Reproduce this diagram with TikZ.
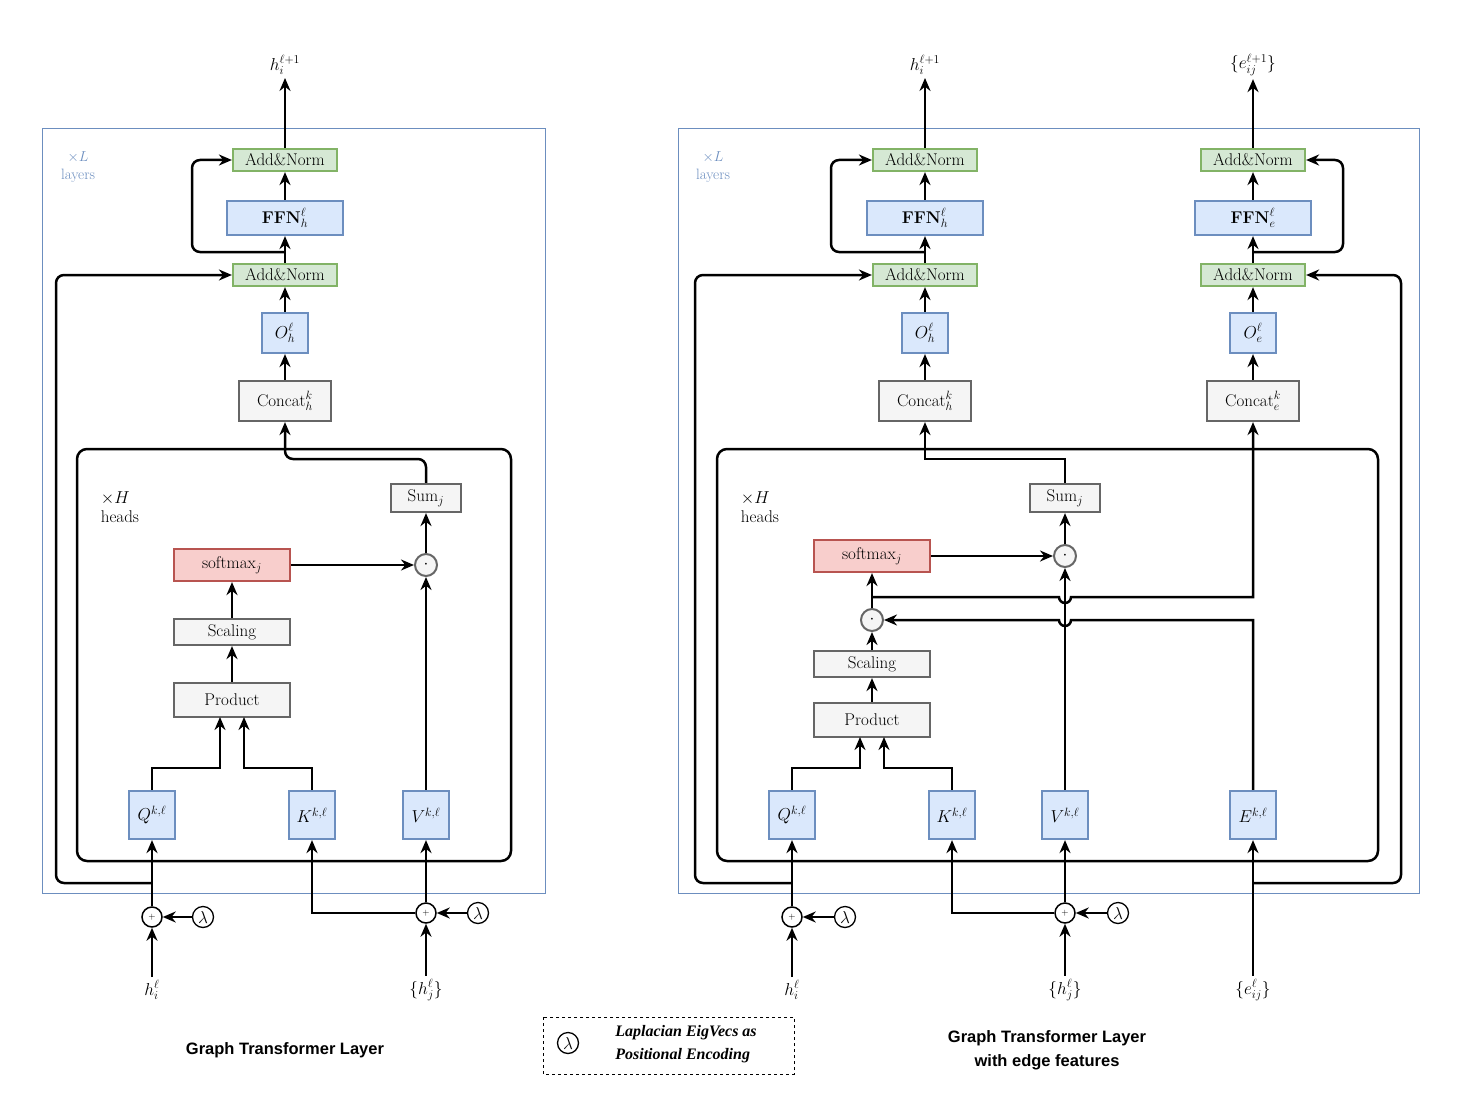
\documentclass[tikz,border=0pt]{standalone}
\usepackage{fontspec}
\newfontfamily\sansb{Liberation Sans}[]
\newfontfamily\serifb{Liberation Serif}[]
\usetikzlibrary{arrows.meta,positioning}
\definecolor{bF}{HTML}{DAE8FC}\definecolor{bS}{HTML}{6C8EBF}
\definecolor{gF}{HTML}{D5E8D4}\definecolor{gS}{HTML}{82B366}
\definecolor{rF}{HTML}{F8CECC}\definecolor{rS}{HTML}{B85450}
\definecolor{yF}{HTML}{F5F5F5}\definecolor{yS}{HTML}{666666}
\begin{document}
\begin{tikzpicture}[x=1pt,y=-1pt,font=\fontsize{17}{19}\selectfont,
 bx/.style={draw,line width=2.2pt,inner sep=0pt,minimum width=#1},
 blu/.style={bx=#1,fill=bF,draw=bS},
 grn/.style={bx=#1,fill=gF,draw=gS,minimum height=22pt},
 red/.style={bx=#1,fill=rF,draw=rS},
 gry/.style={bx=#1,fill=yF,draw=yS},
 dot/.style={circle,draw=yS,fill=yF,line width=2pt,minimum size=22pt,inner sep=0pt},
 pl/.style={circle,draw,fill=white,line width=1.5pt,minimum size=20pt,inner sep=0pt},
 lam/.style={circle,draw,line width=1.3pt,minimum size=21pt,inner sep=0pt},
 ar/.style={line width=2.5pt,-{Stealth[length=13pt,width=11pt]}},
 ln/.style={line width=2.5pt},
 rc/.style={rounded corners=8pt}]
\useasboundingbox (0,0) rectangle (1461,1102);
% ---------- LEFT ----------
\draw[bS,line width=0.8pt] (42,128) rectangle (545,893);
\node[bS,align=center,font=\fontsize{15}{18}\selectfont] (L1) at (78,167) {$\times L$\\layers};
\draw[line width=2.5pt,rounded corners=10pt] (77,449) rectangle (511,861);
\node[align=left] (H1) at (120,507) {$\times H$\\heads};
\node (hout) at (285,65) {$h_i^{\ell+1}$};
\node[grn=104pt] (an1) at (285,160) {Add\&Norm};
\node[blu=116pt,minimum height=34pt] (ffn) at (285,218) {\textbf{FFN}$_h^\ell$};
\node[grn=104pt] (an2) at (285,275) {Add\&Norm};
\node[blu=46pt,minimum height=40pt] (O) at (285,333) {$O_h^\ell$};
\node[gry=92pt,minimum height=40pt] (cc) at (285,401) {Concat$_h^k$};
\node[gry=70pt,minimum height=28pt] (sum) at (426,498) {Sum$_j$};
\node[red=116pt,minimum height=32pt] (sm) at (232,565) {softmax$_j$};
\node[dot] (d1) at (426,565) {$\cdot$};
\node[gry=116pt,minimum height=26pt] (sc) at (232,632) {Scaling};
\node[gry=116pt,minimum height=34pt] (pr) at (232,700) {Product};
\node[blu=46pt,minimum height=48pt] (Q) at (152,815) {$Q^{k,\ell}$};
\node[blu=46pt,minimum height=48pt] (K) at (312,815) {$K^{k,\ell}$};
\node[blu=46pt,minimum height=48pt] (V) at (426,815) {$V^{k,\ell}$};
\node[pl] (p1) at (152,917) {\small$+$};
\node[lam] (l1) at (203,917) {$\lambda$};
\node[pl] (p2) at (426,913) {\small$+$};
\node[lam] (l2) at (478,913) {$\lambda$};
\node (hi) at (152,990) {$h_i^\ell$};
\node (hj) at (426,990) {$\{h_j^\ell\}$};
\node[font=\sansb\bfseries\fontsize{16.5}{20}\selectfont] (t1) at (285,1050) {Graph Transformer Layer};
\draw[ar] (an1) -- (hout);
\draw[ar] (ffn) -- (an1);
\draw[ar] (an2) -- (ffn);
\draw[ar] (O) -- (an2);
\draw[ar] (cc) -- (O);
\draw[ar,rc] (285,252) -- (192,252) -- (192,160) -- (an1.west);
\draw[ar,rc] (152,883) -- (56,883) -- (56,275) -- (an2.west);
\draw[ar,rc] (sum.north) -- (426,459) -- (285,459) -- (cc.south);
\draw[ar] (sm.east) -- (d1.west);
\draw[ar] (V.north) -- (d1.south);
\draw[ar] (d1.north) -- (sum.south);
\draw[ar] (sc) -- (sm);
\draw[ar] (pr) -- (sc);
\draw[ar] (Q.north) -- (152,768) -- (220,768) -- (220,717);
\draw[ar] (K.north) -- (312,768) -- (244,768) -- (244,717);
\draw[ar] (p1) -- (Q);
\draw[ar] (hi) -- (p1);
\draw[ar] (l1) -- (p1);
\draw[ar] (p2) -- (V);
\draw[ar] (p2.west) -- (312,913) -- (K.south);
\draw[ar] (hj) -- (p2);
\draw[ar] (l2) -- (p2);
% ---------- RIGHT ----------
\draw[bS,line width=0.8pt] (678,128) rectangle (1419,893);
\node[bS,align=center,font=\fontsize{15}{18}\selectfont] (L2) at (713,167) {$\times L$\\layers};
\draw[line width=2.5pt,rounded corners=10pt] (717,449) rectangle (1378,861);
\node[align=left] (H2) at (760,507) {$\times H$\\heads};
\node (rhout) at (925,65) {$h_i^{\ell+1}$};
\node (reout) at (1253,65) {$\{e_{ij}^{\ell+1}\}$};
\node[grn=104pt] (ran1) at (925,160) {Add\&Norm};
\node[blu=116pt,minimum height=34pt] (rffn) at (925,218) {\textbf{FFN}$_h^\ell$};
\node[grn=104pt] (ran2) at (925,275) {Add\&Norm};
\node[blu=46pt,minimum height=40pt] (rO) at (925,333) {$O_h^\ell$};
\node[gry=92pt,minimum height=40pt] (rcc) at (925,401) {Concat$_h^k$};
\node[grn=104pt] (ean1) at (1253,160) {Add\&Norm};
\node[blu=116pt,minimum height=34pt] (effn) at (1253,218) {\textbf{FFN}$_e^\ell$};
\node[grn=104pt] (ean2) at (1253,275) {Add\&Norm};
\node[blu=46pt,minimum height=40pt] (eO) at (1253,333) {$O_e^\ell$};
\node[gry=92pt,minimum height=40pt] (ecc) at (1253,401) {Concat$_e^k$};
\node[gry=70pt,minimum height=28pt] (rsum) at (1065,498) {Sum$_j$};
\node[red=116pt,minimum height=32pt] (rsm) at (872,556) {softmax$_j$};
\node[dot] (rd1) at (1065,556) {$\cdot$};
\node[dot] (rd2) at (872,620) {$\cdot$};
\node[gry=116pt,minimum height=26pt] (rsc) at (872,664) {Scaling};
\node[gry=116pt,minimum height=34pt] (rpr) at (872,720) {Product};
\node[blu=46pt,minimum height=48pt] (rQ) at (792,815) {$Q^{k,\ell}$};
\node[blu=46pt,minimum height=48pt] (rK) at (952,815) {$K^{k,\ell}$};
\node[blu=46pt,minimum height=48pt] (rV) at (1065,815) {$V^{k,\ell}$};
\node[blu=46pt,minimum height=48pt] (rE) at (1253,815) {$E^{k,\ell}$};
\node[pl] (rp1) at (792,917) {\small$+$};
\node[lam] (rl1) at (845,917) {$\lambda$};
\node[pl] (rp2) at (1065,913) {\small$+$};
\node[lam] (rl2) at (1118,913) {$\lambda$};
\node (rhi) at (792,990) {$h_i^\ell$};
\node (rhj) at (1065,990) {$\{h_j^\ell\}$};
\node (reij) at (1253,990) {$\{e_{ij}^\ell\}$};
\node[align=center,font=\sansb\bfseries\fontsize{16.5}{24}\selectfont] (t2) at (1047,1050) {Graph Transformer Layer\\with edge features};
\draw[ar] (ran1) -- (rhout);
\draw[ar] (rffn) -- (ran1);
\draw[ar] (ran2) -- (rffn);
\draw[ar] (rO) -- (ran2);
\draw[ar] (rcc) -- (rO);
\draw[ar] (ean1) -- (reout);
\draw[ar] (effn) -- (ean1);
\draw[ar] (ean2) -- (effn);
\draw[ar] (eO) -- (ean2);
\draw[ar] (ecc) -- (eO);
\draw[ar,rc] (925,252) -- (831,252) -- (831,160) -- (ran1.west);
\draw[ar,rc] (792,883) -- (695,883) -- (695,275) -- (ran2.west);
\draw[ar,rc] (1253,252) -- (1343,252) -- (1343,160) -- (ean1.east);
\draw[ar,rc] (1253,883) -- (1401,883) -- (1401,275) -- (ean2.east);
\draw[ar] (rsum.north) -- (1065,459) -- (925,459) -- (rcc.south);
\draw[ar] (rsm.east) -- (rd1.west);
\draw[ar] (rV.north) -- (rd1.south);
\draw[ar] (rd1.north) -- (rsum.south);
\draw[ar] (rd2) -- (rsm);
\draw[ar] (rsc) -- (rd2);
\draw[ar] (rpr) -- (rsc);
\draw[ar] (872,597) -- (1059,597) arc (180:0:6) -- (1253,597) -- (ecc.south);
\draw[ar] (rE.north) -- (1253,620) -- (1071,620) arc (0:180:6) -- (rd2.east);
\draw[ar] (rQ.north) -- (792,768) -- (860,768) -- (860,737);
\draw[ar] (rK.north) -- (952,768) -- (884,768) -- (884,737);
\draw[ar] (rp1) -- (rQ);
\draw[ar] (rhi) -- (rp1);
\draw[ar] (rl1) -- (rp1);
\draw[ar] (rp2) -- (rV);
\draw[ar] (rp2.west) -- (952,913) -- (rK.south);
\draw[ar] (rhj) -- (rp2);
\draw[ar] (rl2) -- (rp2);
\draw[ar] (reij) -- (rE);
% ---------- LEGEND ----------
\draw[dashed,line width=0.8pt] (543,1017) rectangle (794,1074);
\node[lam] (ll) at (568,1043) {$\lambda$};
\node[align=left,font=\serifb\bfseries\itshape\fontsize{16}{23}\selectfont] (lt) at (686,1044) {Laplacian EigVecs as\\Positional Encoding};
\end{tikzpicture}
\end{document}
